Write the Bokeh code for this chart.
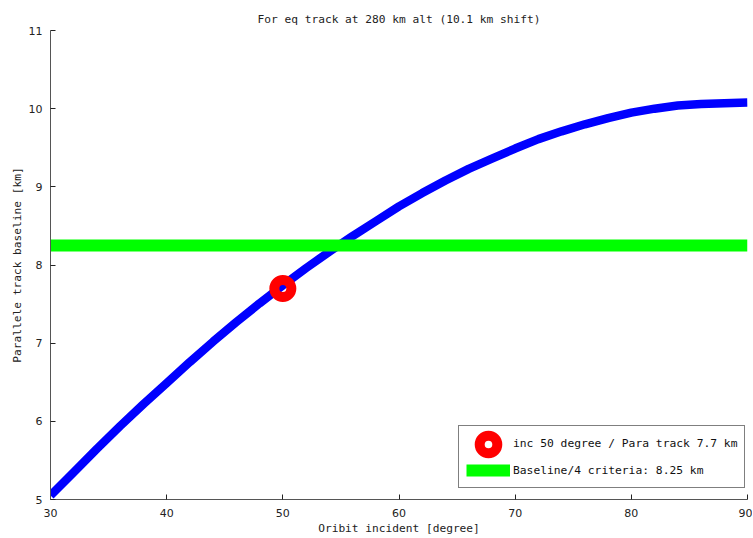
from bokeh.plotting import figure
from bokeh.models import Range1d, Legend, LegendItem, FixedTicker
from bokeh.core.properties import value
from bokeh.embed import file_html
from bokeh.resources import INLINE

# Data
incidence = [30, 32, 34, 36, 38, 40, 42, 44, 46, 48, 50, 52, 54, 56, 58, 60,
             62, 64, 66, 68, 70, 72, 74, 76, 78, 80, 82, 84, 86, 88, 90]
baseline = [5.05, 5.35, 5.65, 5.94, 6.22, 6.49, 6.76, 7.02, 7.27, 7.51, 7.74,
            7.96, 8.17, 8.37, 8.56, 8.75, 8.92, 9.08, 9.23, 9.36, 9.49, 9.61,
            9.71, 9.80, 9.88, 9.95, 10.00, 10.04, 10.06, 10.07, 10.08]
criteria_x = [30, 90]
criteria_y = [8.25, 8.25]
point_x = [50]
point_y = [7.7]
x_ticks = [30, 40, 50, 60, 70, 80, 90]
y_ticks = [5, 6, 7, 8, 9, 10, 11]
label_point = "inc 50 degree / Para track 7.7 km"
label_criteria = "Baseline/4 criteria: 8.25 km"

mono = "DejaVu Sans Mono"

p = figure(width=752, height=537, output_backend="svg", toolbar_location=None,
           x_range=Range1d(30, 90), y_range=Range1d(5, 11),
           title="For eq track at 280 km alt (10.1 km shift)",
           min_border_left=50, min_border_right=5, min_border_top=30,
           min_border_bottom=35)
p.outline_line_color = None
p.grid.visible = False
p.background_fill_color = "white"

p.title.align = "center"
p.title.text_font = mono
p.title.text_font_size = "11.2px"
p.title.text_font_style = "normal"
p.title.text_color = "#222222"
p.title.offset = 0

for ax in (p.xaxis[0], p.yaxis[0]):
    ax.major_tick_in = 5
    ax.major_tick_out = 0
    ax.minor_tick_line_color = None
    ax.axis_line_color = "#555555"
    ax.major_tick_line_color = "#222222"
    ax.major_label_text_font = "DejaVu Sans"
    ax.major_label_text_font_size = "11px"
    ax.major_label_text_color = "#222222"
    ax.axis_label_text_font = mono
    ax.axis_label_text_font_size = "11.2px"
    ax.axis_label_text_font_style = "normal"
    ax.axis_label_text_color = "#222222"

p.xaxis.major_label_standoff = 9
p.xaxis.axis_label_standoff = 2
p.yaxis.major_label_standoff = 8
p.yaxis.axis_label_standoff = 2

p.xaxis.ticker = FixedTicker(ticks=x_ticks)
p.yaxis.ticker = FixedTicker(ticks=y_ticks)
p.xaxis.axis_label = "Oribit incident [degree]"
p.yaxis.axis_label = "Parallele track baseline [km]"

curve = p.line(incidence, baseline, line_color="#0000ff", line_width=8.5)
crit = p.line(criteria_x, criteria_y, line_color="#00ff00", line_width=12)
pt = p.scatter(point_x, point_y, marker="circle", size=17, fill_color=None,
               line_color="#ff0000", line_width=10)
# invisible proxy so the boxed legend only carries the text for the ring entry
proxy = p.scatter([], [], marker="circle", size=1, fill_alpha=0, line_alpha=0)

legend = Legend(items=[
    LegendItem(label=value(label_point), renderers=[proxy]),
    LegendItem(label=value(label_criteria), renderers=[crit]),
], location=(408, 11))
legend.label_text_font = mono
legend.label_text_font_size = "11.3px"
legend.label_text_color = "#111111"
legend.border_line_color = "black"
legend.border_line_width = 1
legend.glyph_width = 44
legend.glyph_height = 20
legend.label_height = 20
legend.spacing = 7
legend.padding = 7
legend.margin = 0
legend.label_standoff = 3
legend.background_fill_alpha = 1
p.add_layout(legend)

# overlay legend that draws the big ring symbol
ring_legend = Legend(items=[LegendItem(label=value(" "), renderers=[pt])],
                     location=(416, 33))
ring_legend.glyph_width = 44
ring_legend.glyph_height = 44
ring_legend.padding = 0
ring_legend.margin = 0
ring_legend.spacing = 0
ring_legend.label_standoff = 0
ring_legend.label_width = 1
ring_legend.border_line_color = None
ring_legend.background_fill_alpha = 0
p.add_layout(ring_legend)

open("out.html", "w").write(file_html(p, INLINE))
